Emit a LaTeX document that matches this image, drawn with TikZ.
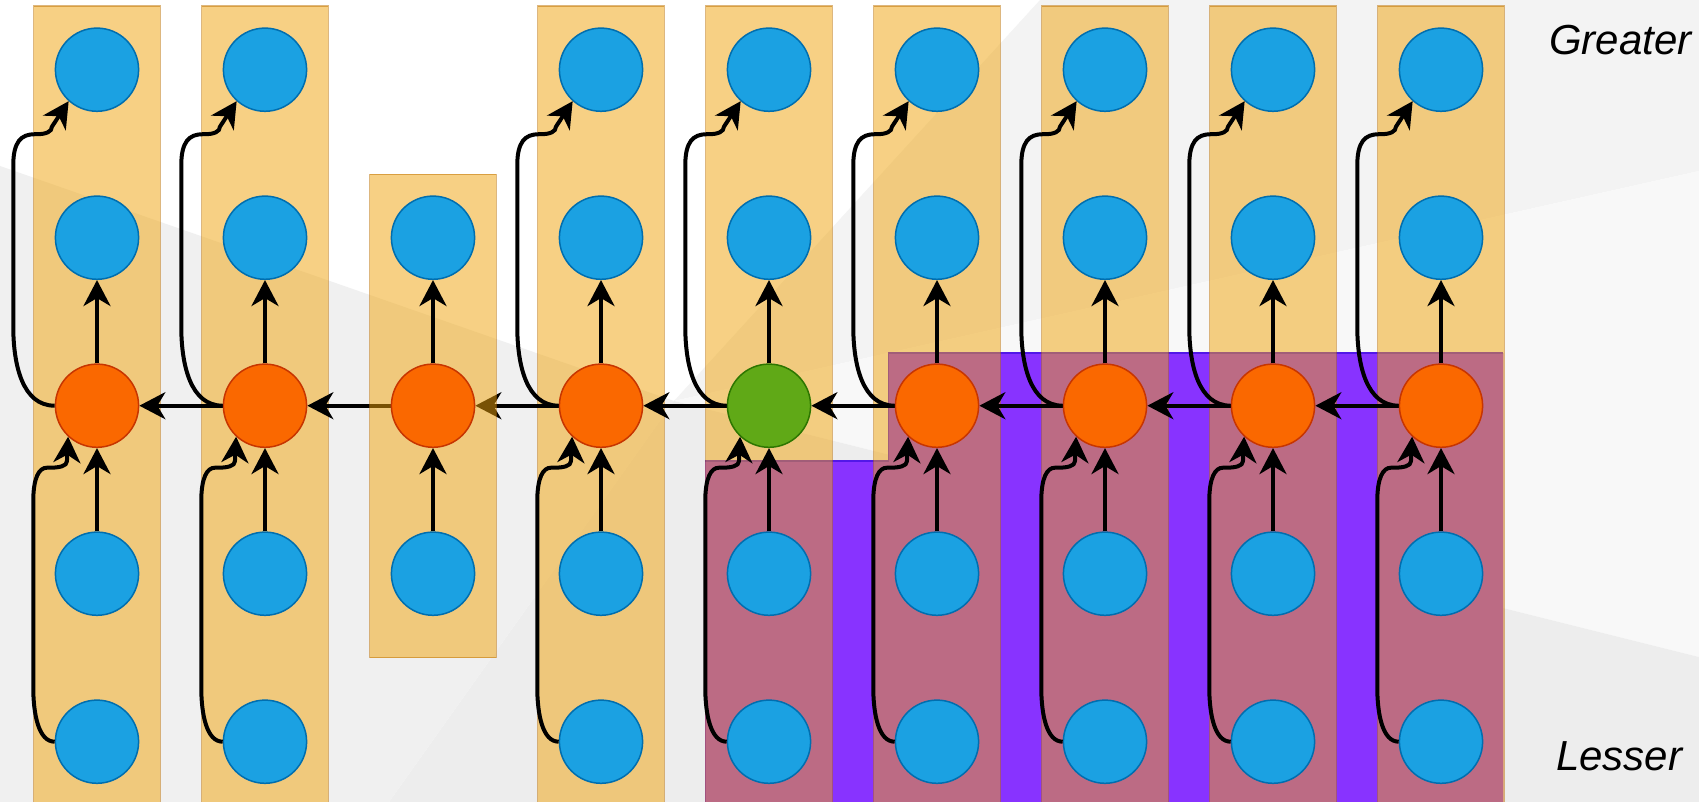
\documentclass[tikz,border=0pt]{standalone}
\usepackage{fontspec}
\setmainfont{Liberation Sans}
\usetikzlibrary{arrows.meta}
\definecolor{blueF}{HTML}{1BA1E2}
\definecolor{blueD}{HTML}{006EAF}
\definecolor{oranF}{HTML}{FA6800}
\definecolor{oranD}{HTML}{C73500}
\definecolor{greenF}{HTML}{60A917}
\definecolor{greenD}{HTML}{2D7600}
\definecolor{amberF}{HTML}{F0A30A}
\definecolor{amberD}{HTML}{BD7000}
\definecolor{violF}{HTML}{8833FF}
\definecolor{violD}{HTML}{5218E8}
\definecolor{bgA}{HTML}{F3F3F3}
\definecolor{bgB}{HTML}{F8F8F8}
\definecolor{bgC}{HTML}{EDEDED}
\definecolor{bgD}{HTML}{F0F0F0}
\pgfdeclarelayer{backdrop}
\pgfdeclarelayer{hedge}
\pgfdeclarelayer{colthree}
\pgfsetlayers{backdrop,hedge,colthree,main}
\begin{document}
\begin{tikzpicture}[x=1pt,y=-1pt,
  unit/.style={circle,minimum size=83.2pt,inner sep=0pt,line width=1.5pt},
  bnode/.style={unit,fill=blueF,draw=blueD},
  onode/.style={unit,fill=oranF,draw=oranD},
  gnode/.style={unit,fill=greenF,draw=greenD},
  colbox/.style={fill=amberF,draw=amberD,line width=1.5pt,opacity=0.5},
  arr/.style={line width=4pt,-{Stealth[length=26pt,width=27pt,inset=8pt]}},
  lbl/.style={font=\fontsize{42}{50}\selectfont\itshape,inner sep=0pt,anchor=base west}
]
\useasboundingbox (0,0) rectangle (1699,802);

% nodes
\foreach \i in {1,2,4,5,6,7,8,9} {
  \pgfmathsetmacro\cx{97+168*(\i-1)}
  \node[bnode] (n\i-1) at (\cx,69.7) {};
  \node[bnode] (n\i-2) at (\cx,237.7) {};
  \ifnum\i=5
    \node[gnode] (n\i-3) at (\cx,405.7) {};
  \else
    \node[onode] (n\i-3) at (\cx,405.7) {};
  \fi
  \node[bnode] (n\i-4) at (\cx,573.7) {};
  \node[bnode] (n\i-5) at (\cx,741.7) {};
}
\node[bnode] (n3-2) at (433,237.7) {};
\node[onode] (n3-3) at (433,405.7) {};
\node[bnode] (n3-4) at (433,573.7) {};

\node[lbl] (greater) at (1549,55) {Greater};
\node[lbl] (lesser) at (1556,770) {Lesser};

% background, purple area, columns
\begin{pgfonlayer}{backdrop}
  \fill[white] (674,401) -- (0,166) -- (0,0) -- (1040,0) -- cycle;
  \fill[bgA] (674,401) -- (1040,0) -- (1699,0) -- (1699,171) -- cycle;
  \fill[bgB] (674,401) -- (1699,171) -- (1699,657) -- cycle;
  \fill[bgC] (674,401) -- (1699,657) -- (1699,802) -- (389,802) -- cycle;
  \fill[bgD] (674,401) -- (389,802) -- (0,802) -- (0,166) -- cycle;
  \fill[violF] (705,461) -- (888.6,461) -- (888.6,353) -- (1503.3,353) -- (1503.3,815) -- (705,815) -- cycle;
  \draw[violD,line width=1.3pt] (705,461) -- (888.6,461) -- (888.6,353) -- (1503.3,353);
  \foreach \i in {1,2,4,5,6,7,8,9} {
    \pgfmathsetmacro\cx{97+168*(\i-1)}
    \path[colbox] (\cx-63.3,6) rectangle (\cx+63.3,815);
  }
\end{pgfonlayer}

% horizontal connectors (under column 3 box)
\begin{pgfonlayer}{hedge}
  \foreach \i in {1,...,8} {
    \pgfmathtruncatemacro\j{\i+1}
    \draw[arr] (n\j-3.west) -- (n\i-3.east);
  }
\end{pgfonlayer}

\begin{pgfonlayer}{colthree}
  \path[colbox] (369.7,174.3) rectangle (496.3,657.7);
\end{pgfonlayer}

% vertical connectors
\foreach \i in {1,...,9} {
  \draw[arr] (n\i-3) -- (n\i-2);
  \draw[arr] (n\i-4) -- (n\i-3);
}

% curved skip connectors
\foreach \i in {1,2,4,5,6,7,8,9} {
  \draw[arr] (n\i-3.west) .. controls +(-32,0) and +(0,40) .. ++(-41.4,-80)
     -- ++(0,-160) .. controls +(0,-24) and +(-14,0) .. ++(21.7,-31.5)
     -- ++(2,0) .. controls +(9,0) and +(0,5) .. ++(15,-7.5)
     -- (n\i-1.228);
  \draw[arr] (n\i-5.west) .. controls +(-16,0) and +(0,28) .. ++(-21.4,-55)
     -- ++(0,-185) .. controls +(0,-24) and +(-8,0) .. ++(13.7,-34)
     -- ++(3,0) .. controls +(9,0) and +(0,5) .. ++(17,-6.5)
     -- (n\i-3.227);
}
\end{tikzpicture}
\end{document}
